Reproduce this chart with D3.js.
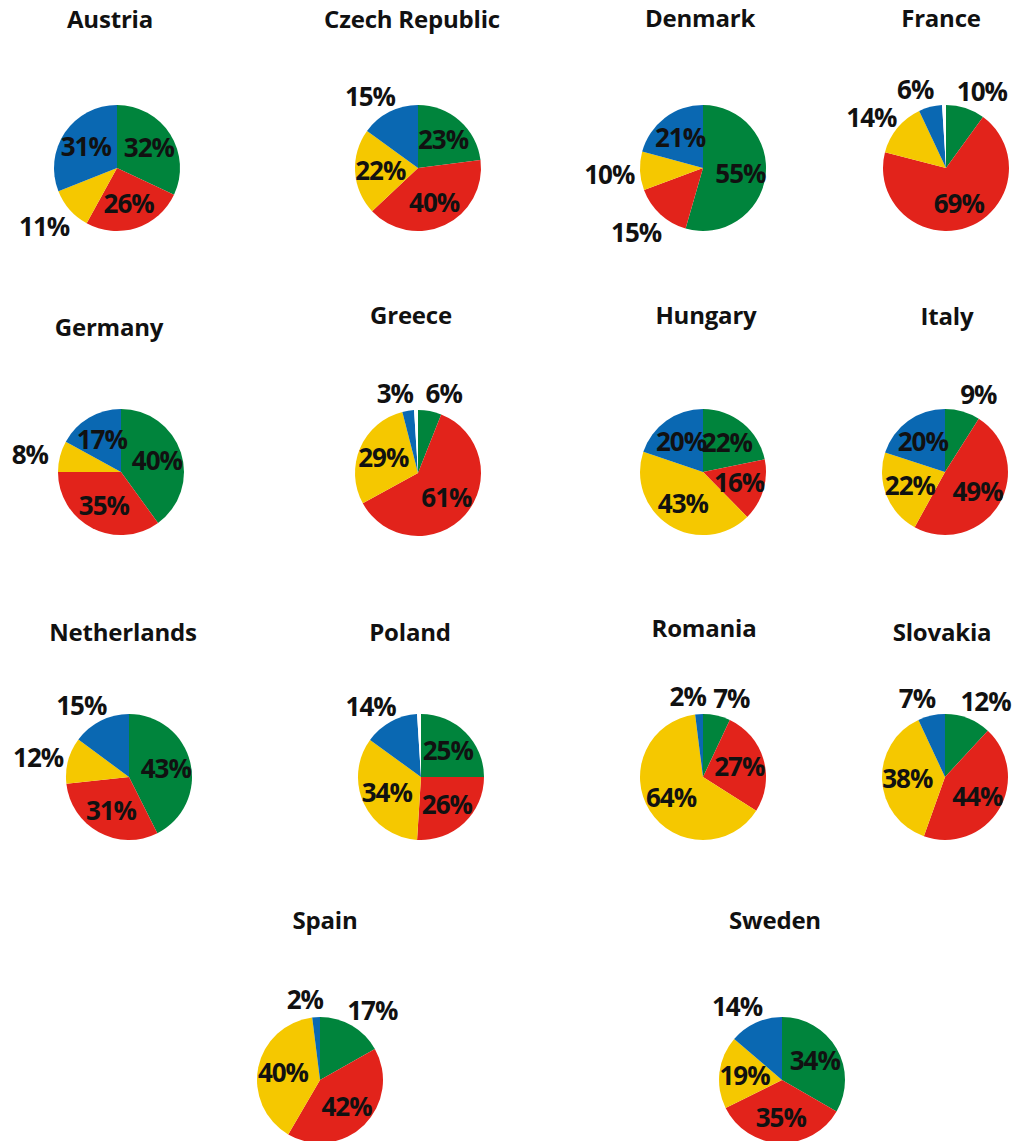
<!DOCTYPE html>
<html>
<head>
<meta charset="utf-8">
<script src="https://cdn.jsdelivr.net/npm/d3@7"></script>
<style>
  body { margin: 0; background: #fff; }
  text { font-family: "Open Sans", Roboto, sans-serif; font-weight: 700; fill: #111; }
</style>
</head>
<body>
<div id="pies"></div>
<script>
// Datos: porcentajes por pais (verde, rojo, amarillo, azul)
var countries = ["Austria", "Czech Republic", "Denmark", "France",
                 "Germany", "Greece", "Hungary", "Italy",
                 "Netherlands", "Poland", "Romania", "Slovakia",
                 "Spain", "Sweden"];
var green  = [32, 23, 55, 10, 40,  6, 22,  9, 43, 25,  7, 12, 17, 34];
var red    = [26, 40, 15, 69, 35, 61, 16, 49, 31, 26, 27, 44, 42, 35];
var yellow = [11, 22, 10, 14,  8, 29, 43, 22, 12, 34, 64, 38, 40, 19];
var blue   = [31, 15, 21,  6, 17,  3, 20, 20, 15, 14,  2,  7,  2, 14];

var seriesNames = ["green", "red", "yellow", "blue", "rest"];
var colors = d3.scaleOrdinal()
  .domain(seriesNames)
  .range(["#00843c", "#e2231b", "#f5c800", "#0a68b2", "#ffffff"]);

// Posiciones de cada tarta (centro) y de su titulo
var layout = [
  {cx: 117, cy: 168, tx: 110, ty: 28},
  {cx: 418, cy: 168, tx: 412, ty: 28},
  {cx: 703, cy: 168, tx: 700, ty: 27},
  {cx: 946, cy: 168, tx: 941, ty: 27},
  {cx: 121, cy: 472, tx: 109, ty: 336},
  {cx: 418, cy: 473, tx: 411, ty: 324},
  {cx: 703, cy: 472, tx: 706, ty: 324},
  {cx: 945, cy: 472, tx: 947, ty: 325},
  {cx: 129, cy: 777, tx: 123, ty: 641},
  {cx: 421, cy: 777, tx: 410, ty: 641},
  {cx: 703, cy: 777, tx: 704, ty: 637},
  {cx: 945, cy: 777, tx: 942, ty: 641},
  {cx: 320, cy: 1080, tx: 325, ty: 929},
  {cx: 782, cy: 1080, tx: 775, ty: 929}
];

// etiquetas que van fuera aunque el sector sea grande
var forceOutside = {"Spain": ["green"]};

var radius = 63;

var svg = d3.select('#pies').append('svg')
  .attr('width', 1031)
  .attr('height', 1141);

var pie = d3.pie()
  .sort(null)
  .value(function(d) { return d.value; });

var arc = d3.arc()
  .innerRadius(0)
  .outerRadius(radius);

var inLabel = d3.arc()
  .innerRadius(0)
  .outerRadius(radius * 1.2);

countries.forEach(function(name, i) {
  var vals = [green[i], red[i], yellow[i], blue[i]];
  var total = d3.sum(vals);
  var slices = vals.map(function(v, j) { return {key: seriesNames[j], value: v}; });
  if (total < 100) slices.push({key: "rest", value: 100 - total});

  var pos = layout[i];

  svg.append('text')
    .attr('x', pos.tx)
    .attr('y', pos.ty)
    .style('text-anchor', 'middle')
    .style('font-size', '24px')
    .style('letter-spacing', '-0.2px')
    .text(name);

  var g = svg.append('g')
    .attr('transform', 'translate(' + pos.cx + ',' + pos.cy + ')');

  var arcs = pie(slices);

  g.selectAll('path')
    .data(arcs)
    .enter()
    .append('path')
    .attr('d', arc)
    .style('fill', function(d) { return colors(d.data.key); });

  var extra = forceOutside[name] || [];

  g.selectAll('.lbl')
    .data(arcs.filter(function(d) { return d.data.key !== "rest"; }))
    .enter()
    .append('text')
    .classed('lbl', true)
    .style('text-anchor', 'middle')
    .style('font-size', '26px')
    .style('letter-spacing', '-1px')
    .attr('dy', '0.36em')
    .attr('transform', function(d) {
      var outside = d.data.value < 16 || extra.indexOf(d.data.key) >= 0;
      if (!outside) {
        return 'translate(' + inLabel.centroid(d) + ')';
      }
      var a = (d.startAngle + d.endAngle) / 2;
      var r = radius * 1.33;
      var s = Math.sin(a);
      var x = r * s + (s >= 0 ? 10 : -10);
      var y = -r * Math.cos(a) + 3;
      return 'translate(' + x + ',' + y + ')';
    })
    .text(function(d) { return d.data.value + '%'; });
});
</script>
</body>
</html>
